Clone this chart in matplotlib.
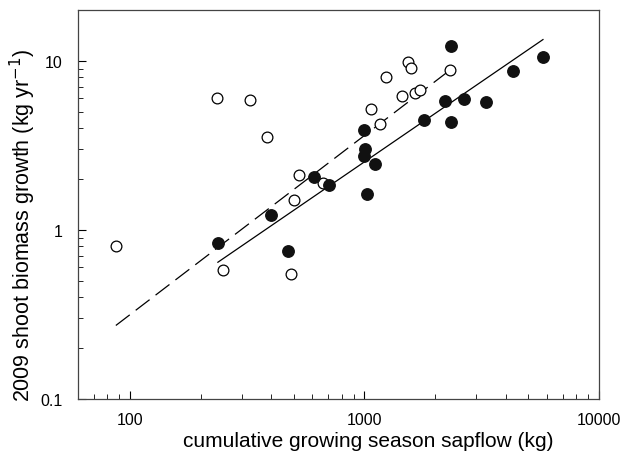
import numpy as np
import matplotlib.pyplot as plt

plt.rcParams['font.family'] = ['Liberation Sans', 'DejaVu Sans']

# open circles
open_x = [87, 236, 326, 385, 526, 668, 501, 250, 486,
          1233, 1537, 1585, 2322, 1443, 1641, 1718, 1069, 1170]
open_y = [0.80, 6.07, 5.88, 3.56, 2.12, 1.90, 1.50, 0.58, 0.55,
          8.08, 9.82, 9.09, 8.85, 6.18, 6.44, 6.74, 5.20, 4.24]

# filled circles
filled_x = [237, 401, 609, 706, 473, 2339, 5770, 4285, 2198, 2655,
            3288, 2345, 1786, 993, 1007, 997, 1111, 1028]
filled_y = [0.834, 1.23, 2.07, 1.85, 0.755, 12.3, 10.6, 8.69, 5.82, 5.96,
            5.70, 4.34, 4.46, 3.92, 3.00, 2.74, 2.45, 1.64]

# fitted lines, log10(y) = a + b*log10(x)
dash_a, dash_b = -2.621, 1.06
solid_a, solid_b = -2.447, 0.95

fig = plt.figure(figsize=(6.27, 4.56), dpi=100)
ax = fig.add_axes([0.1244, 0.1228, 0.8309, 0.8531])

# dashed line over the range of open circles
xd = np.array([min(open_x), max(open_x)])
ax.plot(xd, 10 ** (dash_a + dash_b * np.log10(xd)), color='black', lw=0.9,
        dashes=(14, 6), zorder=1)
# solid line over the range of filled circles
xs = np.array([min(filled_x), max(filled_x)])
ax.plot(xs, 10 ** (solid_a + solid_b * np.log10(xs)), color='black', lw=0.9,
        zorder=1)

ax.scatter(open_x, open_y, s=60, facecolors='white', edgecolors='black',
           linewidths=0.9, zorder=3)
ax.scatter(filled_x, filled_y, s=68, color='#111111', zorder=3)

ax.set_xscale('log')
ax.set_yscale('log')
ax.set_xlim(60, 10000)
ax.set_ylim(0.1, 20)
ax.set_xticks([100, 1000, 10000])
ax.set_xticklabels(['100', '1000', '10000'])
ax.set_yticks([0.1, 1, 10])
ax.set_yticklabels(['0.1', '1', '10'])

ax.tick_params(which='both', direction='in', top=False, right=False,
               labelsize=11.5, colors='black')
ax.tick_params(which='major', length=6, width=0.8)
ax.tick_params(which='minor', length=3.5, width=0.6)
ax.tick_params(axis='x', which='major', pad=9)
ax.tick_params(axis='y', which='major', pad=11)
for sp in ax.spines.values():
    sp.set_color('#444444')
    sp.set_linewidth(0.9)

ax.set_xlabel('cumulative growing season sapflow (kg)', fontsize=15,
              va='center', ha='center')
ax.xaxis.set_label_coords(0.557, -0.106)
ax.set_ylabel('2009 shoot biomass growth (kg yr$^{-1}$)', fontsize=15.5,
              va='center', ha='center')
ax.yaxis.set_label_coords(-0.105, 0.45)

plt.savefig('out.png', dpi=100)
